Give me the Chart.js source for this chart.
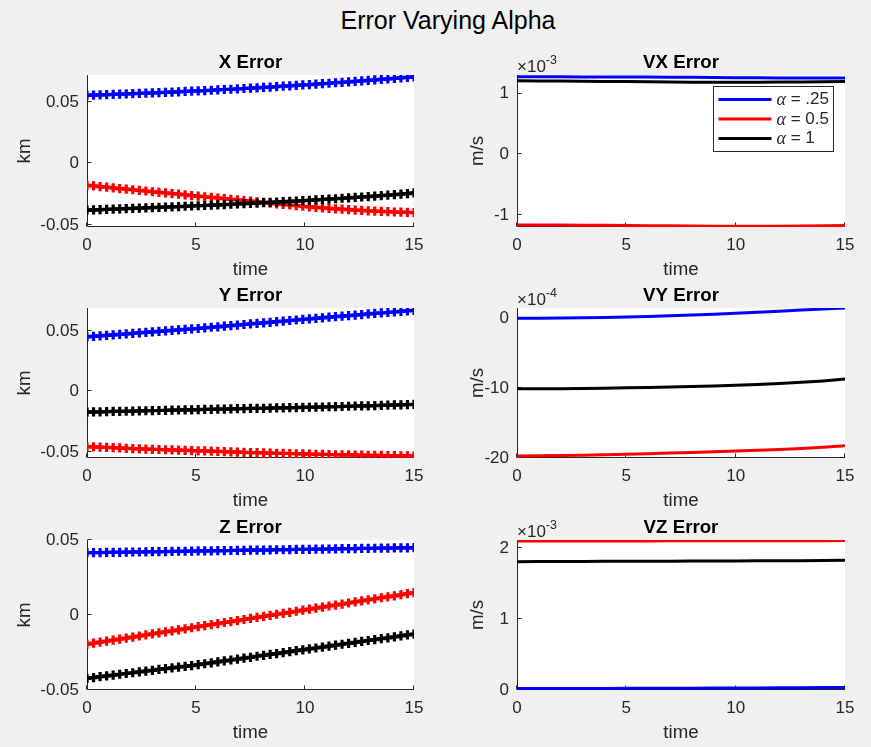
<!DOCTYPE html>
<html lang="en">
<head>
<meta charset="UTF-8">
<title>Error Varying Alpha</title>
<script src="https://cdn.jsdelivr.net/npm/chart.js@4"></script>
<style>
    html, body {
        margin: 0;
        padding: 0;
        background: #f0f0f0;
        width: 871px;
        height: 747px;
        overflow: hidden;
    }
    body { position: relative; }
    canvas { position: absolute; }
    #suptitle {
        position: absolute;
        top: 5px;
        left: 448px;
        transform: translateX(-50%);
        font: 25px/30px "Liberation Sans", Arial, Helvetica, sans-serif;
        color: #000;
        white-space: nowrap;
    }
</style>
</head>
<body>
<div id="suptitle">Error Varying Alpha</div>

<canvas id="cX"  width="435" height="242" style="left:0;top:40px"></canvas>
<canvas id="cVX" width="436" height="242" style="left:435px;top:40px"></canvas>
<canvas id="cY"  width="435" height="240" style="left:0;top:273px"></canvas>
<canvas id="cVY" width="436" height="240" style="left:435px;top:273px"></canvas>
<canvas id="cZ"  width="435" height="240" style="left:0;top:505px"></canvas>
<canvas id="cVZ" width="436" height="240" style="left:435px;top:505px"></canvas>

<script>
// ---- data -------------------------------------------------------------
// sample times for the position errors (markers) and velocity errors (lines)
const tPos = [0, 0.3, 0.6, 0.9, 1.2, 1.5, 1.8, 2.1, 2.4, 2.7,
              3, 3.3, 3.6, 3.9, 4.2, 4.5, 4.8, 5.1, 5.4, 5.7,
              6, 6.3, 6.6, 6.9, 7.2, 7.5, 7.8, 8.1, 8.4, 8.7,
              9, 9.3, 9.6, 9.9, 10.2, 10.5, 10.8, 11.1, 11.4, 11.7,
              12, 12.3, 12.6, 12.9, 13.2, 13.5, 13.8, 14.1, 14.4, 14.7,
              15];
const tVel = [0, 1, 2, 3, 4, 5, 6, 7, 8, 9, 10, 11, 12, 13, 14, 15];

const alphaLabels = ['\u03b1 = .25', '\u03b1 = 0.5', '\u03b1 = 1'];
const alphaColors = ['#0000ff', '#ff0000', '#000000'];

const timeTicks = [0, 5, 10, 15];

// X error [km]
const xErrA025 = [0.0555, 0.0557, 0.0558, 0.0560, 0.0562, 0.0564, 0.0566, 0.0568, 0.0570, 0.0572,
                  0.0574, 0.0576, 0.0579, 0.0581, 0.0583, 0.0586, 0.0588, 0.0591, 0.0593, 0.0596,
                  0.0599, 0.0602, 0.0604, 0.0607, 0.0610, 0.0613, 0.0616, 0.0619, 0.0622, 0.0626,
                  0.0629, 0.0632, 0.0635, 0.0639, 0.0642, 0.0646, 0.0649, 0.0653, 0.0657, 0.0660,
                  0.0664, 0.0668, 0.0672, 0.0676, 0.0680, 0.0684, 0.0688, 0.0692, 0.0696, 0.0701,
                  0.0705];
const xErrA05 = [-0.0178, -0.0183, -0.0188, -0.0193, -0.0199, -0.0204, -0.0209, -0.0214, -0.0219, -0.0224,
                 -0.0230, -0.0235, -0.0240, -0.0245, -0.0250, -0.0255, -0.0261, -0.0266, -0.0271, -0.0276,
                 -0.0281, -0.0286, -0.0292, -0.0297, -0.0302, -0.0307, -0.0312, -0.0317, -0.0322, -0.0328,
                 -0.0333, -0.0338, -0.0343, -0.0348, -0.0353, -0.0357, -0.0361, -0.0365, -0.0369, -0.0372,
                 -0.0376, -0.0379, -0.0382, -0.0385, -0.0388, -0.0390, -0.0392, -0.0395, -0.0396, -0.0398,
                 -0.0400];
const xErrA1 = [-0.0380, -0.0378, -0.0376, -0.0374, -0.0372, -0.0370, -0.0367, -0.0365, -0.0363, -0.0361,
                -0.0359, -0.0357, -0.0355, -0.0353, -0.0351, -0.0348, -0.0346, -0.0344, -0.0342, -0.0339,
                -0.0337, -0.0335, -0.0332, -0.0330, -0.0327, -0.0325, -0.0322, -0.0319, -0.0316, -0.0314,
                -0.0311, -0.0308, -0.0306, -0.0303, -0.0300, -0.0297, -0.0293, -0.0290, -0.0287, -0.0283,
                -0.0280, -0.0276, -0.0273, -0.0269, -0.0265, -0.0262, -0.0258, -0.0254, -0.0249, -0.0245,
                -0.0240];
const xErrRange = [-0.0517, 0.072];
const xErrTicks = [-0.05, 0, 0.05];

// Y error [km]
const yErrA025 = [0.0451, 0.0455, 0.0459, 0.0463, 0.0467, 0.0471, 0.0475, 0.0479, 0.0484, 0.0488,
                  0.0492, 0.0496, 0.0500, 0.0504, 0.0508, 0.0512, 0.0516, 0.0520, 0.0525, 0.0530,
                  0.0534, 0.0539, 0.0544, 0.0548, 0.0553, 0.0558, 0.0562, 0.0567, 0.0571, 0.0576,
                  0.0581, 0.0586, 0.0590, 0.0595, 0.0599, 0.0604, 0.0608, 0.0613, 0.0617, 0.0622,
                  0.0626, 0.0631, 0.0635, 0.0640, 0.0644, 0.0648, 0.0652, 0.0656, 0.0661, 0.0666,
                  0.0670];
const yErrA05 = [-0.0456, -0.0458, -0.0460, -0.0462, -0.0464, -0.0466, -0.0469, -0.0471, -0.0473, -0.0475,
                 -0.0477, -0.0479, -0.0481, -0.0482, -0.0484, -0.0486, -0.0488, -0.0490, -0.0491, -0.0493,
                 -0.0495, -0.0497, -0.0499, -0.0500, -0.0502, -0.0504, -0.0505, -0.0506, -0.0508, -0.0510,
                 -0.0511, -0.0512, -0.0514, -0.0515, -0.0517, -0.0518, -0.0519, -0.0520, -0.0522, -0.0523,
                 -0.0524, -0.0525, -0.0526, -0.0527, -0.0528, -0.0528, -0.0529, -0.0530, -0.0531, -0.0532,
                 -0.0533];
const yErrA1 = [-0.0170, -0.0169, -0.0168, -0.0166, -0.0165, -0.0164, -0.0163, -0.0162, -0.0160, -0.0159,
                -0.0158, -0.0157, -0.0156, -0.0154, -0.0153, -0.0152, -0.0151, -0.0150, -0.0148, -0.0147,
                -0.0146, -0.0145, -0.0144, -0.0142, -0.0141, -0.0140, -0.0140, -0.0139, -0.0137, -0.0136,
                -0.0135, -0.0134, -0.0133, -0.0131, -0.0130, -0.0129, -0.0128, -0.0126, -0.0125, -0.0124,
                -0.0122, -0.0120, -0.0119, -0.0118, -0.0116, -0.0114, -0.0113, -0.0111, -0.0110, -0.0108,
                -0.0107];
const yErrRange = [-0.0549, 0.0689];
const yErrTicks = [-0.05, 0, 0.05];

// Z error [km]
const zErrA025 = [0.0415, 0.0416, 0.0416, 0.0417, 0.0418, 0.0418, 0.0419, 0.0420, 0.0420, 0.0421,
                  0.0422, 0.0422, 0.0423, 0.0424, 0.0425, 0.0425, 0.0426, 0.0427, 0.0427, 0.0428,
                  0.0429, 0.0429, 0.0430, 0.0431, 0.0431, 0.0432, 0.0433, 0.0433, 0.0434, 0.0435,
                  0.0435, 0.0436, 0.0437, 0.0437, 0.0438, 0.0439, 0.0439, 0.0440, 0.0441, 0.0442,
                  0.0442, 0.0443, 0.0444, 0.0444, 0.0445, 0.0446, 0.0446, 0.0447, 0.0448, 0.0448,
                  0.0449];
const zErrA05 = [-0.0195, -0.0188, -0.0181, -0.0174, -0.0167, -0.0161, -0.0154, -0.0147, -0.0140, -0.0133,
                 -0.0126, -0.0119, -0.0112, -0.0106, -0.0099, -0.0092, -0.0085, -0.0078, -0.0071, -0.0064,
                 -0.0057, -0.0050, -0.0044, -0.0037, -0.0030, -0.0023, -0.0016, -0.0009, -0.0002, 0.0005,
                 0.0011, 0.0018, 0.0025, 0.0032, 0.0039, 0.0046, 0.0053, 0.0060, 0.0066, 0.0073,
                 0.0080, 0.0087, 0.0094, 0.0101, 0.0108, 0.0115, 0.0121, 0.0128, 0.0135, 0.0142,
                 0.0149];
const zErrA1 = [-0.0422, -0.0417, -0.0411, -0.0406, -0.0401, -0.0395, -0.0390, -0.0385, -0.0379, -0.0374,
                -0.0369, -0.0363, -0.0358, -0.0353, -0.0347, -0.0342, -0.0337, -0.0331, -0.0325, -0.0319,
                -0.0312, -0.0306, -0.0300, -0.0294, -0.0288, -0.0282, -0.0275, -0.0269, -0.0263, -0.0257,
                -0.0251, -0.0244, -0.0238, -0.0232, -0.0226, -0.0220, -0.0214, -0.0207, -0.0201, -0.0195,
                -0.0189, -0.0183, -0.0176, -0.0170, -0.0164, -0.0158, -0.0152, -0.0146, -0.0139, -0.0133,
                -0.0127];
const zErrRange = [-0.05, 0.05];
const zErrTicks = [-0.05, 0, 0.05];

// VX error [m/s, x 10^-3]
const vxErrA025 = [1.280, 1.280, 1.280, 1.279, 1.278, 1.277, 1.275, 1.273, 1.271, 1.268, 1.265, 1.263, 1.262, 1.261, 1.260, 1.260];
const vxErrA05 = [-1.165, -1.167, -1.169, -1.171, -1.173, -1.175, -1.178, -1.181, -1.184, -1.187, -1.189, -1.188, -1.186, -1.183, -1.180, -1.177];
const vxErrA1 = [1.215, 1.212, 1.210, 1.207, 1.204, 1.201, 1.198, 1.195, 1.192, 1.190, 1.190, 1.191, 1.193, 1.196, 1.200, 1.203];
const vxErrRange = [-1.2, 1.31];
const vxErrTicks = [-1, 0, 1];

// VY error [m/s, x 10^-4]
const vyErrA025 = [0, 0, 0.02, 0.05, 0.10, 0.17, 0.25, 0.34, 0.45, 0.57, 0.70, 0.85, 1.00, 1.15, 1.30, 1.45];
const vyErrA05 = [-19.70, -19.68, -19.64, -19.60, -19.55, -19.45, -19.38, -19.30, -19.20, -19.10, -19.00, -18.90, -18.78, -18.64, -18.46, -18.24];
const vyErrA1 = [-10.10, -10.10, -10.08, -10.05, -10.02, -9.97, -9.92, -9.86, -9.78, -9.70, -9.60, -9.48, -9.34, -9.18, -8.98, -8.72];
const vyErrRange = [-20, 1.45];
const vyErrTicks = [-20, -10, 0];

// VZ error [m/s, x 10^-3]
const vzErrA025 = [0.020, 0.020, 0.021, 0.021, 0.022, 0.023, 0.024, 0.025, 0.026, 0.027, 0.028, 0.029, 0.030, 0.032, 0.034, 0.036];
const vzErrA05 = [2.100, 2.100, 2.100, 2.101, 2.101, 2.102, 2.102, 2.103, 2.103, 2.104, 2.104, 2.105, 2.105, 2.106, 2.106, 2.107];
const vzErrA1 = [1.810, 1.811, 1.812, 1.813, 1.814, 1.815, 1.816, 1.817, 1.818, 1.819, 1.820, 1.821, 1.822, 1.824, 1.826, 1.828];
const vzErrRange = [0, 2.115];
const vzErrTicks = [0, 1, 2];

// ---- styling ----------------------------------------------------------
const axisColor = '#262626';
const fontFamily = '"Liberation Sans", Arial, Helvetica, sans-serif';
Chart.defaults.font.family = fontFamily;
Chart.defaults.color = axisColor;

// white axes background, axis lines, inward ticks, exponent and legend
const matlabAxes = {
    id: 'matlabAxes',
    beforeDraw(chart) {
        const a = chart.chartArea, ctx = chart.ctx;
        ctx.save();
        ctx.fillStyle = '#ffffff';
        ctx.fillRect(a.left, a.top, a.right - a.left, a.bottom - a.top);
        ctx.restore();
    },
    beforeDatasetsDraw(chart) {
        const a = chart.chartArea, ctx = chart.ctx;
        const xs = chart.scales.x, ys = chart.scales.y;
        const L = Math.round(a.left) + 0.5, B = Math.round(a.bottom) - 0.5;
        ctx.save();
        ctx.strokeStyle = axisColor;
        ctx.lineWidth = 1;
        ctx.beginPath();
        ctx.moveTo(L, a.top);
        ctx.lineTo(L, B);
        ctx.lineTo(a.right, B);
        xs.ticks.forEach(t => {
            const px = Math.round(xs.getPixelForValue(t.value)) - 0.5;
            ctx.moveTo(px, B);
            ctx.lineTo(px, B - 4);
        });
        ys.ticks.forEach(t => {
            const py = Math.round(ys.getPixelForValue(t.value)) - 0.5;
            ctx.moveTo(L, py);
            ctx.lineTo(L + 4, py);
        });
        ctx.stroke();
        ctx.restore();
    },
    afterDraw(chart, args, opts) {
        const a = chart.chartArea, ctx = chart.ctx;
        ctx.save();
        if (opts.exponent) {
            ctx.fillStyle = axisColor;
            ctx.textBaseline = 'alphabetic';
            ctx.textAlign = 'left';
            ctx.font = '17px ' + fontFamily;
            const base = '\u00d710';
            ctx.fillText(base, a.left, a.top - 3);
            const w = ctx.measureText(base).width;
            ctx.font = '12.5px ' + fontFamily;
            ctx.fillText(String(opts.exponent), a.left + w, a.top - 11);
        }
        if (opts.legend) {
            const sets = chart.data.datasets;
            const boxW = 120, boxH = 65;
            const bx = Math.round(a.right - 12 - boxW) + 0.5, by = Math.round(a.top + 11) + 0.5;
            ctx.fillStyle = '#ffffff';
            ctx.fillRect(bx, by, boxW, boxH);
            ctx.strokeStyle = axisColor;
            ctx.lineWidth = 1;
            ctx.strokeRect(bx, by, boxW, boxH);
            sets.forEach((ds, i) => {
                const cy = by + 13 + i * 19.5;
                ctx.strokeStyle = ds.borderColor;
                ctx.lineWidth = 3;
                ctx.beginPath();
                ctx.moveTo(bx + 5, cy);
                ctx.lineTo(bx + 58, cy);
                ctx.stroke();
                ctx.fillStyle = axisColor;
                ctx.textBaseline = 'middle';
                ctx.font = 'italic 18px "Liberation Serif", "DejaVu Serif", serif';
                const sym = ds.label.charAt(0);
                ctx.fillText(sym, bx + 63, cy + 1);
                const sw = ctx.measureText(sym).width;
                ctx.font = '17px ' + fontFamily;
                ctx.fillText(ds.label.slice(1), bx + 63 + sw, cy);
            });
        }
        ctx.restore();
    }
};

function makePanel(id, p) {
    const left = p.column === 0;
    const datasets = p.series.map((vals, i) => ({
        label: alphaLabels[i],
        data: vals.map((v, k) => ({ x: p.t[k], y: v })),
        borderColor: alphaColors[i],
        backgroundColor: alphaColors[i],
        borderWidth: 3,
        pointStyle: 'cross',
        pointRadius: p.markers ? 4.6 : 0,
        pointBorderWidth: 3.2,
        pointBorderColor: alphaColors[i],
        tension: 0,
        clip: 0,
        order: 2 - i
    }));
    return new Chart(document.getElementById(id), {
        type: 'line',
        data: { datasets },
        options: {
            responsive: false,
            animation: false,
            events: [],
            layout: { padding: { left: 0, right: left ? 21 : 26, top: 0, bottom: 0 } },
            plugins: {
                legend: { display: false },
                tooltip: { enabled: false },
                title: {
                    display: true,
                    text: p.title,
                    fullSize: false,
                    color: '#000000',
                    font: { size: 18.7, weight: 'bold', family: fontFamily },
                    padding: { top: 11.3, bottom: 1.26 }
                },
                matlabAxes: { exponent: p.exponent || 0, legend: !!p.legend }
            },
            scales: {
                x: {
                    type: 'linear',
                    min: 0,
                    max: 15,
                    afterBuildTicks: s => { s.ticks = timeTicks.map(v => ({ value: v })); },
                    afterFit: s => { s.height = 55; },
                    grid: { display: false, drawTicks: false },
                    border: { display: false },
                    ticks: { font: { size: 17 }, color: axisColor, padding: 8, maxRotation: 0, autoSkip: false },
                    title: {
                        display: true, text: 'time', color: axisColor,
                        font: { size: 18.7 }, padding: { top: 0, bottom: 0.8 }
                    }
                },
                y: {
                    type: 'linear',
                    min: p.range[0],
                    max: p.range[1],
                    afterBuildTicks: s => { s.ticks = p.ticks.map(v => ({ value: v })); },
                    afterFit: s => { s.width = left ? 87 : 82; },
                    grid: { display: false, drawTicks: false },
                    border: { display: false },
                    ticks: {
                        font: { size: 17 }, color: axisColor, padding: 8, autoSkip: false,
                        callback: v => String(v)
                    },
                    title: {
                        display: true, text: p.unit, color: axisColor,
                        font: { size: 18.7 }, padding: { top: left ? 14 : 31.8, bottom: 0 }
                    }
                }
            }
        },
        plugins: [matlabAxes]
    });
}

makePanel('cX', { column: 0, title: 'X Error', unit: 'km', t: tPos, markers: true,
    series: [xErrA025, xErrA05, xErrA1], range: xErrRange, ticks: xErrTicks });
makePanel('cVX', { column: 1, title: 'VX Error', unit: 'm/s', t: tVel, exponent: -3, legend: true,
    series: [vxErrA025, vxErrA05, vxErrA1], range: vxErrRange, ticks: vxErrTicks });
makePanel('cY', { column: 0, title: 'Y Error', unit: 'km', t: tPos, markers: true,
    series: [yErrA025, yErrA05, yErrA1], range: yErrRange, ticks: yErrTicks });
makePanel('cVY', { column: 1, title: 'VY Error', unit: 'm/s', t: tVel, exponent: -4,
    series: [vyErrA025, vyErrA05, vyErrA1], range: vyErrRange, ticks: vyErrTicks });
makePanel('cZ', { column: 0, title: 'Z Error', unit: 'km', t: tPos, markers: true,
    series: [zErrA025, zErrA05, zErrA1], range: zErrRange, ticks: zErrTicks });
makePanel('cVZ', { column: 1, title: 'VZ Error', unit: 'm/s', t: tVel, exponent: -3,
    series: [vzErrA025, vzErrA05, vzErrA1], range: vzErrRange, ticks: vzErrTicks });
</script>
</body>
</html>
